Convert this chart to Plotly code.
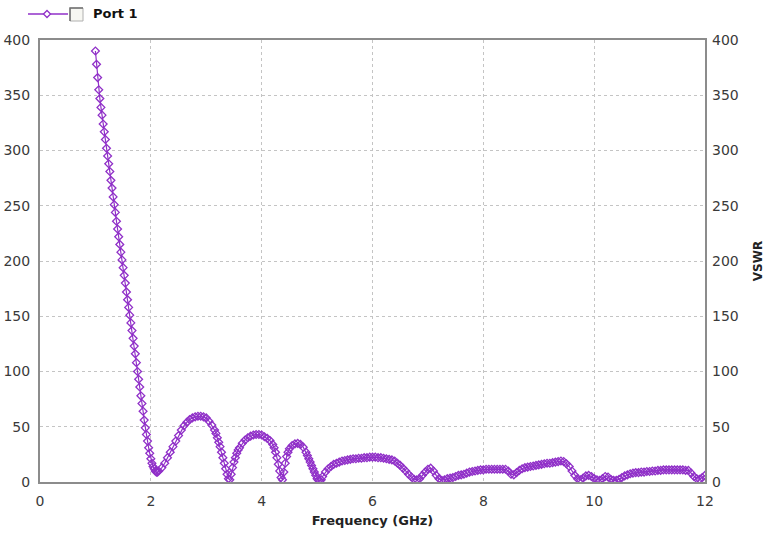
import plotly.graph_objects as go

# Frequency (GHz) and VSWR values
freq = [
    1.00, 1.02, 1.04, 1.06, 1.08, 1.10, 1.12, 1.14, 1.16, 1.18,
    1.20, 1.22, 1.24, 1.26, 1.28, 1.30, 1.32, 1.34, 1.36, 1.38,
    1.40, 1.42, 1.44, 1.46, 1.48, 1.50, 1.52, 1.54, 1.56, 1.58,
    1.60, 1.62, 1.64, 1.66, 1.68, 1.70, 1.72, 1.74, 1.76, 1.78,
    1.80, 1.82, 1.84, 1.86, 1.88, 1.90, 1.92, 1.94, 1.96, 1.98,
    2.00, 2.02, 2.04, 2.06, 2.08, 2.10, 2.12, 2.14,
    2.20, 2.25, 2.30, 2.35, 2.40, 2.45, 2.50, 2.55, 2.60, 2.65,
    2.70, 2.75, 2.80, 2.85, 2.90, 2.95, 3.00, 3.05, 3.10, 3.15,
    3.175, 3.20, 3.225, 3.25, 3.275, 3.30, 3.325, 3.35, 3.375, 3.40,
    3.425, 3.45, 3.475, 3.50, 3.525, 3.55, 3.575, 3.60, 3.65, 3.70,
    3.75, 3.80, 3.85, 3.90, 3.95, 4.00, 4.05, 4.10, 4.15, 4.20,
    4.225, 4.25, 4.275, 4.30, 4.325, 4.35, 4.375, 4.40, 4.425, 4.45,
    4.475, 4.50, 4.55, 4.60, 4.65, 4.70, 4.75, 4.80, 4.825, 4.85,
    4.875, 4.90, 4.925, 4.95, 4.975, 5.00, 5.025, 5.05, 5.075, 5.10,
    5.15, 5.20, 5.25, 5.30, 5.35, 5.40, 5.45, 5.50, 5.55, 5.60,
    5.65, 5.70, 5.75, 5.80, 5.85, 5.90, 5.95, 6.00, 6.05, 6.10,
    6.15, 6.20, 6.25, 6.30, 6.35, 6.40, 6.45, 6.50, 6.55, 6.60,
    6.65, 6.70, 6.75, 6.80, 6.85, 6.90, 6.95, 7.00, 7.05, 7.10,
    7.15, 7.20, 7.25, 7.30, 7.35, 7.40, 7.45, 7.50, 7.55, 7.60,
    7.65, 7.70, 7.75, 7.80, 7.85, 7.90, 7.95, 8.00, 8.05, 8.10,
    8.15, 8.20, 8.25, 8.30, 8.35, 8.40, 8.45, 8.50, 8.55, 8.60,
    8.65, 8.70, 8.75, 8.80, 8.85, 8.90, 8.95, 9.00, 9.05, 9.10,
    9.15, 9.20, 9.25, 9.30, 9.35, 9.40, 9.45, 9.50, 9.55, 9.60,
    9.65, 9.70, 9.75, 9.80, 9.85, 9.90, 9.95, 10.00, 10.05, 10.10,
    10.15, 10.20, 10.25, 10.30, 10.35, 10.40, 10.45, 10.50, 10.55, 10.60,
    10.65, 10.70, 10.75, 10.80, 10.85, 10.90, 10.95, 11.00, 11.05, 11.10,
    11.15, 11.20, 11.25, 11.30, 11.35, 11.40, 11.45, 11.50, 11.55, 11.60,
    11.65, 11.70, 11.75, 11.80, 11.85, 11.90, 11.95, 12.00,
]
vswr = [
    390, 378, 366, 355, 347, 339, 332, 324, 317, 310,
    302, 295, 288, 281, 273, 266, 258, 251, 244, 236,
    229, 222, 215, 208, 201, 194, 187, 180, 172, 165,
    158, 151, 144, 137, 130, 123, 116, 108, 100, 93,
    86, 78, 71, 64, 56, 49, 43, 37, 31, 26,
    21, 17, 14, 12, 10, 9, 9, 10,
    13, 17, 22, 27, 32, 37, 42, 47, 51, 54,
    56.5, 58, 59, 59.5, 59.5, 59, 58, 55, 51.5, 47,
    44, 40, 36, 32, 27, 22, 17, 12, 7, 3,
    2, 7, 13, 18, 22, 26, 29, 31, 35, 38,
    40, 41.5, 42.5, 43, 43, 42.5, 41, 39.5, 37.5, 34,
    31, 27, 22, 16, 10, 4, 2, 9, 17, 23,
    27, 30, 33, 34.5, 35, 34, 31.5, 27, 24, 21,
    18, 15, 12, 9, 6, 3, 1.5, 1, 2, 5,
    9, 12, 14, 16, 17, 18, 19, 19.5, 20, 20.5,
    21, 21, 21.5, 21.5, 22, 22, 22.5, 22.5, 22.5, 22,
    22, 21.5, 21, 20.5, 20, 19, 17, 15, 12.5, 10,
    7, 4.5, 2.5, 2, 3, 6, 9, 11.5, 12.5, 10,
    6, 3, 1.5, 2, 3, 3.5, 4, 5, 6, 6.5,
    7, 8, 9, 9.5, 10, 10.5, 11, 11, 11.5, 11.5,
    11.5, 11.5, 11.5, 11.5, 11.5, 11.5, 10, 7, 6.5, 8.5,
    10.5, 12, 13, 13.5, 14, 14.5, 15, 15.5, 16, 16.5,
    17, 17, 17.5, 18, 18.5, 19, 18.5, 16.5, 14, 10,
    6, 3, 2, 3.5, 5.5, 6, 5, 3, 2, 1.5,
    3, 5, 4.5, 2.5, 1.5, 1.5, 2.5, 4, 5.5, 6.5,
    7.5, 8, 8.5, 8.5, 9, 9, 9.5, 9.5, 10, 10,
    10.5, 10.5, 11, 11, 11, 11, 11, 11, 11, 11,
    10.5, 10.5, 8, 5, 3, 2.5, 4, 6,
]

x_ticks = [0, 2, 4, 6, 8, 10, 12]
y_ticks = [0, 50, 100, 150, 200, 250, 300, 350, 400]
series_name = "Port 1"
x_title = "Frequency (GHz)"
y2_title = "VSWR"

PURPLE = "#9030C8"
FONT = "DejaVu Sans, Verdana, sans-serif"
TICKFONT = dict(family=FONT, size=14, color="#3a3a3a")

fig = go.Figure()
fig.add_trace(go.Scatter(
    x=freq, y=vswr, mode="lines+markers", name=series_name,
    line=dict(color=PURPLE, width=1.2),
    marker=dict(symbol="diamond-open", size=6, color=PURPLE, line=dict(width=1.3, color=PURPLE)),
    showlegend=False,
))

axis_common = dict(
    showline=True, linecolor="#8c8c8c", linewidth=2, mirror=True,
    showgrid=True, gridcolor="#c4c4c4", griddash="3px,3px", gridwidth=1,
    zeroline=False, ticks="", tickfont=TICKFONT, automargin=False,
)

fig.update_layout(
    width=765, height=534,
    margin=dict(l=40, r=60, t=40, b=52),
    paper_bgcolor="white", plot_bgcolor="white",
    font=dict(family=FONT, size=13, color="#3a3a3a"),
    xaxis=dict(range=[0, 12], tickvals=x_ticks, ticklabelstandoff=5,
               title=dict(text="<b>" + x_title + "</b>", standoff=8,
                          font=dict(family=FONT, size=13, color="#222")),
               **axis_common),
    yaxis=dict(range=[0, 400], tickvals=y_ticks, ticklabelstandoff=5, **axis_common),
    yaxis2=dict(range=[0, 400], tickvals=y_ticks, overlaying="y", side="right",
                showgrid=False, showline=False, zeroline=False, ticks="",
                ticklabelstandoff=6, automargin=False,
                tickfont=TICKFONT,
                title=dict(text="<b>" + y2_title + "</b>", font=dict(family=FONT, size=12, color="#222"))),
    showlegend=False,
)
# invisible trace so the right axis is drawn
fig.add_trace(go.Scatter(x=[None], y=[None], yaxis="y2", showlegend=False, hoverinfo="skip"))

# Legend drawn as in the reference: line with open diamond, a checkbox, then label
def px_x(p):
    return (p - 40) / 665.0

def px_y(p):
    return (482 - p) / 442.0

ly = 14
fig.add_shape(type="line", xref="paper", yref="paper",
              x0=px_x(28), x1=px_x(68), y0=px_y(ly), y1=px_y(ly),
              line=dict(color=PURPLE, width=1.5))
cx = 47
fig.add_shape(type="path", xref="paper", yref="paper",
              path=f"M {px_x(cx-3.5)},{px_y(ly)} L {px_x(cx)},{px_y(ly-3.5)} L {px_x(cx+3.5)},{px_y(ly)} L {px_x(cx)},{px_y(ly+3.5)} Z",
              line=dict(color=PURPLE, width=1.3), fillcolor="white")
fig.add_shape(type="rect", xref="paper", yref="paper",
              x0=px_x(70), x1=px_x(83), y0=px_y(21), y1=px_y(8),
              line=dict(color="#b0b0b0", width=1), fillcolor="#f7f7f2")
fig.add_shape(type="path", xref="paper", yref="paper",
              path=f"M {px_x(70)},{px_y(21)} L {px_x(70)},{px_y(8)} L {px_x(83)},{px_y(8)}",
              line=dict(color="#707070", width=1.5))
fig.add_annotation(xref="paper", yref="paper", x=px_x(91), y=px_y(ly),
                   xanchor="left", yanchor="middle", showarrow=False,
                   text="<b>" + series_name + "</b>",
                   font=dict(family=FONT, size=13, color="#111"))

fig.write_html("out.html", config={"displayModeBar": False},
               post_script="document.body.style.margin='0';document.body.style.overflow='hidden';")
